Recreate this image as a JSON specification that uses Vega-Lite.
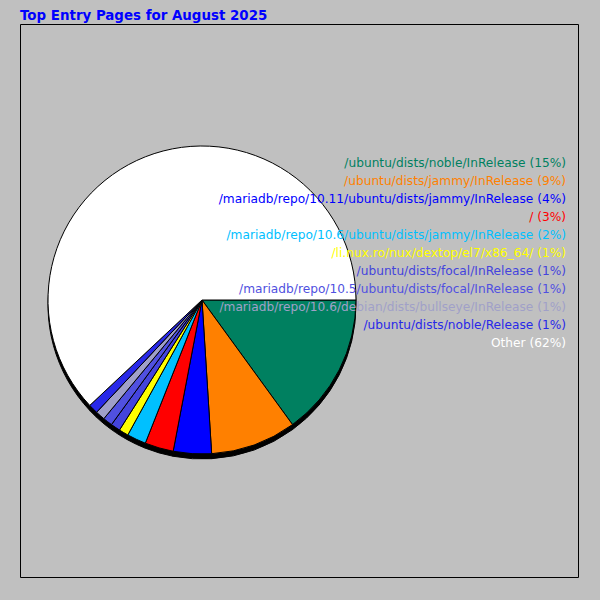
{
  "$schema": "https://vega.github.io/schema/vega-lite/v6.json",
  "width": 558,
  "height": 553,
  "autosize": {"type": "none"},
  "padding": {"left": 20, "top": 24, "right": 22, "bottom": 23},
  "background": "#C0C0C0",
  "title": {
    "text": "Top Entry Pages for August 2025",
    "anchor": "start",
    "font": "DejaVu Sans",
    "fontSize": 13.4,
    "fontWeight": "bold",
    "color": "#0000FF",
    "offset": 2
  },
  "data": {
    "values": [
      {"rank": 1, "page": "/ubuntu/dists/noble/InRelease", "pct": 15, "label": "/ubuntu/dists/noble/InRelease (15%)"},
      {"rank": 2, "page": "/ubuntu/dists/jammy/InRelease", "pct": 9, "label": "/ubuntu/dists/jammy/InRelease (9%)"},
      {"rank": 3, "page": "/mariadb/repo/10.11/ubuntu/dists/jammy/InRelease", "pct": 4, "label": "/mariadb/repo/10.11/ubuntu/dists/jammy/InRelease (4%)"},
      {"rank": 4, "page": "/", "pct": 3, "label": "/ (3%)"},
      {"rank": 5, "page": "/mariadb/repo/10.6/ubuntu/dists/jammy/InRelease", "pct": 2, "label": "/mariadb/repo/10.6/ubuntu/dists/jammy/InRelease (2%)"},
      {"rank": 6, "page": "/li.nux.ro/nux/dextop/el7/x86_64/", "pct": 1, "label": "/li.nux.ro/nux/dextop/el7/x86_64/ (1%)"},
      {"rank": 7, "page": "/ubuntu/dists/focal/InRelease", "pct": 1, "label": "/ubuntu/dists/focal/InRelease (1%)"},
      {"rank": 8, "page": "/mariadb/repo/10.5/ubuntu/dists/focal/InRelease", "pct": 1, "label": "/mariadb/repo/10.5/ubuntu/dists/focal/InRelease (1%)"},
      {"rank": 9, "page": "/mariadb/repo/10.6/debian/dists/bullseye/InRelease", "pct": 1, "label": "/mariadb/repo/10.6/debian/dists/bullseye/InRelease (1%)"},
      {"rank": 10, "page": "/ubuntu/dists/noble/Release", "pct": 1, "label": "/ubuntu/dists/noble/Release (1%)"},
      {"rank": 11, "page": "Other", "pct": 62, "label": "Other (62%)"}
    ]
  },
  "layer": [
    {
      "mark": {"type": "arc", "x": 182, "y": 281, "radius": 154, "fill": "#000000", "stroke": "#000000"},
      "encoding": {
        "theta": {"field": "pct", "type": "quantitative", "stack": true, "scale": {"range": [1.5708, 7.854]}},
        "order": {"field": "rank", "type": "quantitative"}
      }
    },
    {
      "mark": {"type": "arc", "x": 182, "y": 276, "radius": 154, "stroke": "#000000", "strokeWidth": 1},
      "encoding": {
        "theta": {"field": "pct", "type": "quantitative", "stack": true, "scale": {"range": [1.5708, 7.854]}},
        "order": {"field": "rank", "type": "quantitative"},
        "color": {
          "field": "rank",
          "type": "ordinal",
          "scale": {
            "domain": [1, 2, 3, 4, 5, 6, 7, 8, 9, 10, 11],
            "range": ["#008060", "#FF8000", "#0000FF", "#FF0000", "#00C0FF", "#FFFF00", "#4444DD", "#5050E0", "#A0A0C8", "#2828E8", "#FFFFFF"]
          },
          "legend": null
        }
      }
    },
    {
      "mark": {"type": "text", "align": "right", "baseline": "middle", "x": 546, "font": "DejaVu Sans", "fontSize": 12.2},
      "encoding": {
        "y": {"field": "rank", "type": "quantitative", "scale": {"domain": [1, 11], "range": [139, 319]}, "axis": null},
        "text": {"field": "label"},
        "color": {"field": "rank", "type": "ordinal", "legend": null}
      }
    }
  ],
  "config": {
    "view": {"stroke": "#000000", "strokeWidth": 1}
  }
}
